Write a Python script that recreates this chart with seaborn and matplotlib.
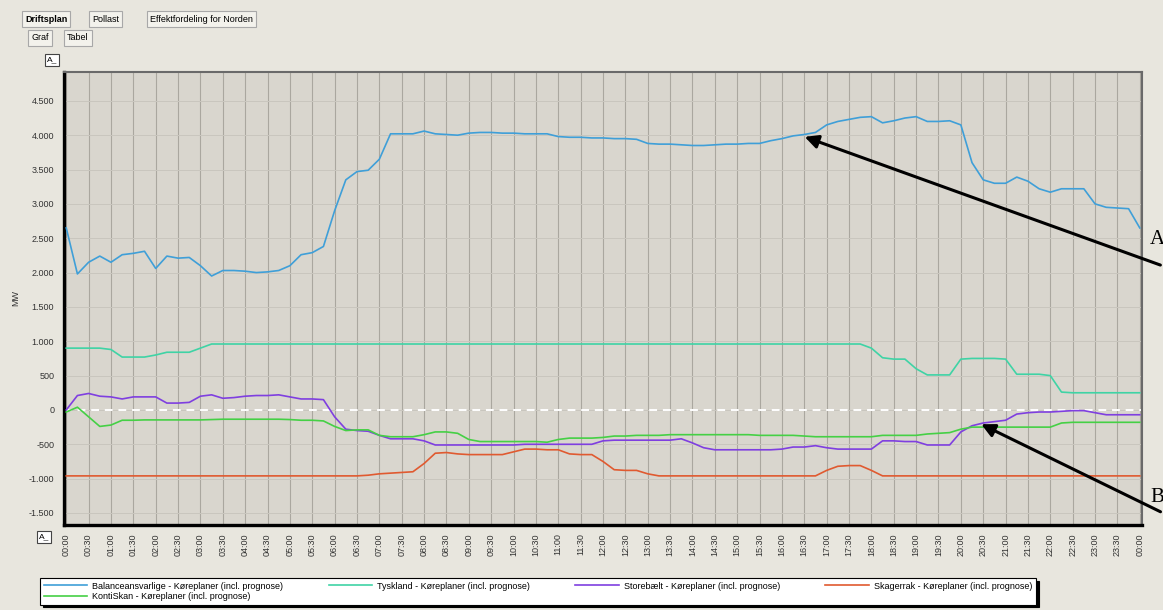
import numpy as np
import pandas as pd
import matplotlib
matplotlib.use('Agg')
import matplotlib.pyplot as plt
import seaborn as sns

# --- Data: quarter-hour values (MW), 00:00 .. 24:00 ---
times = np.arange(97) * 0.25  # hours

balance = [
    2650, 1980, 2150, 2240, 2150, 2260, 2280, 2310,
    2060, 2240, 2210, 2220, 2100, 1950, 2030, 2030,
    2020, 2000, 2010, 2030, 2100, 2260, 2290, 2380,
    2900, 3350, 3470, 3490, 3650, 4020, 4020, 4020,
    4060, 4020, 4010, 4000, 4030, 4040, 4040, 4030,
    4030, 4020, 4020, 4020, 3980, 3970, 3970, 3960,
    3960, 3950, 3950, 3940, 3880, 3870, 3870, 3860,
    3850, 3850, 3860, 3870, 3870, 3880, 3880, 3920,
    3950, 3990, 4010, 4040, 4150, 4200, 4230, 4260,
    4270, 4180, 4210, 4250, 4270, 4200, 4200, 4210,
    4150, 3600, 3350, 3300, 3300, 3390, 3330, 3220,
    3170, 3220, 3220, 3220, 3000, 2950, 2940, 2930,
    2650]

tyskland = [
    900, 900, 900, 900, 880, 770, 770, 770,
    800, 840, 840, 840, 900, 960, 960, 960,
    960, 960, 960, 960, 960, 960, 960, 960,
    960, 960, 960, 960, 960, 960, 960, 960,
    960, 960, 960, 960, 960, 960, 960, 960,
    960, 960, 960, 960, 960, 960, 960, 960,
    960, 960, 960, 960, 960, 960, 960, 960,
    960, 960, 960, 960, 960, 960, 960, 960,
    960, 960, 960, 960, 960, 960, 960, 960,
    900, 760, 740, 740, 600, 510, 510, 510,
    740, 750, 750, 750, 740, 520, 520, 520,
    500, 260, 250, 250, 250, 250, 250, 250,
    250]

storebaelt = [
    0, 210, 240, 200, 190, 160, 190, 190,
    190, 100, 100, 110, 200, 220, 170, 180,
    200, 210, 210, 220, 190, 160, 160, 150,
    -100, -280, -300, -310, -370, -420, -420, -420,
    -450, -510, -510, -510, -510, -510, -510, -510,
    -510, -500, -500, -500, -500, -500, -500, -500,
    -450, -440, -440, -440, -440, -440, -440, -420,
    -480, -550, -580, -580, -580, -580, -580, -580,
    -570, -540, -540, -520, -550, -570, -570, -570,
    -570, -450, -450, -460, -460, -510, -510, -510,
    -320, -230, -190, -170, -150, -60, -40, -30,
    -30, -20, -10, -10, -40, -70, -70, -70,
    -70]

skagerrak = [
    -960, -960, -960, -960, -960, -960, -960, -960,
    -960, -960, -960, -960, -960, -960, -960, -960,
    -960, -960, -960, -960, -960, -960, -960, -960,
    -960, -960, -960, -950, -930, -920, -910, -900,
    -780, -630, -620, -640, -650, -650, -650, -650,
    -610, -570, -570, -580, -580, -640, -650, -650,
    -750, -870, -880, -880, -930, -960, -960, -960,
    -960, -960, -960, -960, -960, -960, -960, -960,
    -960, -960, -960, -960, -880, -820, -810, -810,
    -880, -960, -960, -960, -960, -960, -960, -960,
    -960, -960, -960, -960, -960, -960, -960, -960,
    -960, -960, -960, -960, -960, -960, -960, -960,
    -960]

kontiskan = [
    -30, 40, -100, -240, -220, -150, -150, -145,
    -145, -145, -145, -145, -145, -140, -135, -135,
    -135, -135, -135, -135, -140, -150, -150, -160,
    -240, -300, -290, -290, -370, -390, -390, -390,
    -360, -320, -320, -340, -430, -460, -460, -460,
    -460, -460, -460, -470, -430, -410, -410, -410,
    -400, -380, -380, -370, -370, -370, -360, -360,
    -360, -360, -360, -360, -360, -360, -370, -370,
    -370, -370, -380, -390, -390, -390, -390, -390,
    -390, -370, -370, -370, -370, -350, -340, -330,
    -280, -250, -250, -250, -250, -250, -250, -250,
    -250, -190, -180, -180, -180, -180, -180, -180,
    -180]

series_names = [
    'Balanceansvarlige - Køreplaner (incl. prognose)',
    'Tyskland - Køreplaner (incl. prognose)',
    'Storebælt - Køreplaner (incl. prognose)',
    'Skagerrak - Køreplaner (incl. prognose)',
    'KontiSkan - Køreplaner (incl. prognose)',
]
series_colors = ['#3f9fd8', '#3fd3a5', '#7f3fe0', '#e05a30', '#45d045']

x_tick_labels = ['%02d:%02d' % ((m // 60) % 24, m % 60) for m in range(0, 24 * 60 + 1, 30)]
y_ticks = list(range(-1500, 5000, 500))

# --- Build long-form table ---
df = pd.DataFrame({'Tid': times})
for name, vals in zip(series_names, [balance, tyskland, storebaelt, skagerrak, kontiskan]):
    df[name] = vals
long = df.melt(id_vars='Tid', var_name='Serie', value_name='MW')

# --- Figure ---
plt.rcParams['font.family'] = ['Liberation Sans', 'DejaVu Sans']
fig = plt.figure(figsize=(11.63, 6.10), dpi=100, facecolor='#e8e6de')
W, H = 1163, 610
ax = fig.add_axes([64 / W, 1 - 525 / H, (1142 - 64) / W, (525 - 72) / H])
ax.set_facecolor('#d9d6ce')

# grid
for t in np.arange(0, 24.01, 0.5):
    ax.axvline(t, color='#aaa79f', lw=0.8, zorder=0)
for v in y_ticks:
    ax.axhline(v, color='#c9c6be', lw=0.7, zorder=0)
ax.axhline(0, color='white', lw=1.4, ls=(0, (4, 3)), zorder=1)

sns.lineplot(data=long, x='Tid', y='MW', hue='Serie',
             palette=dict(zip(series_names, series_colors)),
             linewidth=1.2, ax=ax, zorder=3)

ax.set_xlim(-0.05, 24.05)
ax.set_ylim(-1675, 4920)
ax.set_xticks(np.arange(0, 24.01, 0.5))
ax.set_xticklabels(x_tick_labels, rotation=90, fontsize=6.5, color='#333333')
ax.set_yticks(y_ticks)
ax.set_yticklabels([f'{v:,}'.replace(',', '.') for v in y_ticks], fontsize=6.5, color='#333333')
ax.tick_params(length=0, pad=7)
ax.tick_params(axis='x', pad=6)
ax.set_xlabel('')
ax.set_ylabel('MW', fontsize=6.5, color='#333333', labelpad=6)

for side in ['left', 'bottom']:
    ax.spines[side].set_color('black')
    ax.spines[side].set_linewidth(2.4)
for side in ['top', 'right']:
    ax.spines[side].set_color('#6a6a6a')
    ax.spines[side].set_linewidth(1.5)

# legend (order so that it reads row-wise)
handles, labels = ax.get_legend_handles_labels()
order = [0, 4, 1, 2, 3]
ax.get_legend().remove()
leg = fig.legend([handles[i] for i in order], [labels[i] for i in order],
                 loc='upper left', bbox_to_anchor=(40 / W, 1 - 578 / H),
                 ncol=4, fontsize=6.5, handlelength=4.8, handletextpad=0.6,
                 columnspacing=5.0, frameon=True, fancybox=False,
                 borderpad=0.4, borderaxespad=0, labelspacing=0.15,
                 shadow={'color': 'black', 'alpha': 1.0})
leg.get_frame().set_edgecolor('black')
leg.get_frame().set_facecolor('white')
leg.get_frame().set_linewidth(0.8)

# annotation arrows
ax.annotate('', xy=(16.45, 3990), xycoords='data', xytext=(1163, H - 266),
            textcoords='figure pixels', annotation_clip=False,
            arrowprops=dict(arrowstyle='-|>', color='black', lw=2.2, mutation_scale=20))
ax.annotate('', xy=(20.4, -190), xycoords='data', xytext=(1163, H - 513),
            textcoords='figure pixels', annotation_clip=False,
            arrowprops=dict(arrowstyle='-|>', color='black', lw=2.2, mutation_scale=20))
fig.text(1150 / W, 1 - 240 / H, 'A', family='Liberation Serif', fontsize=15, va='center', ha='left')
fig.text(1150 / W, 1 - 497 / H, 'B', family='Liberation Serif', fontsize=15, va='center', ha='left')

# window tabs / small UI labels
tab = dict(boxstyle='square,pad=0.35', fc='#f3f2ec', ec='#a8a8a8', lw=0.8)
fig.text(25 / W, 1 - 19 / H, 'Driftsplan', fontsize=6.5, weight='bold', va='center', bbox=tab)
fig.text(92 / W, 1 - 19 / H, 'Pollast', fontsize=6.5, va='center', bbox=tab)
fig.text(150 / W, 1 - 19 / H, 'Effektfordeling for Norden', fontsize=6.5, va='center', bbox=tab)
fig.text(31 / W, 1 - 38 / H, 'Graf', fontsize=6.5, va='center', bbox=tab)
fig.text(67 / W, 1 - 38 / H, 'Tabel', fontsize=6.5, va='center', bbox=tab)
small = dict(boxstyle='square,pad=0.25', fc='white', ec='#444444', lw=0.8)
fig.text(47 / W, 1 - 60 / H, 'A_', fontsize=6, va='center', bbox=small)
fig.text(39 / W, 1 - 537 / H, 'A_', fontsize=6, va='center', bbox=small)

fig.savefig('out.png', dpi=100, facecolor=fig.get_facecolor())
